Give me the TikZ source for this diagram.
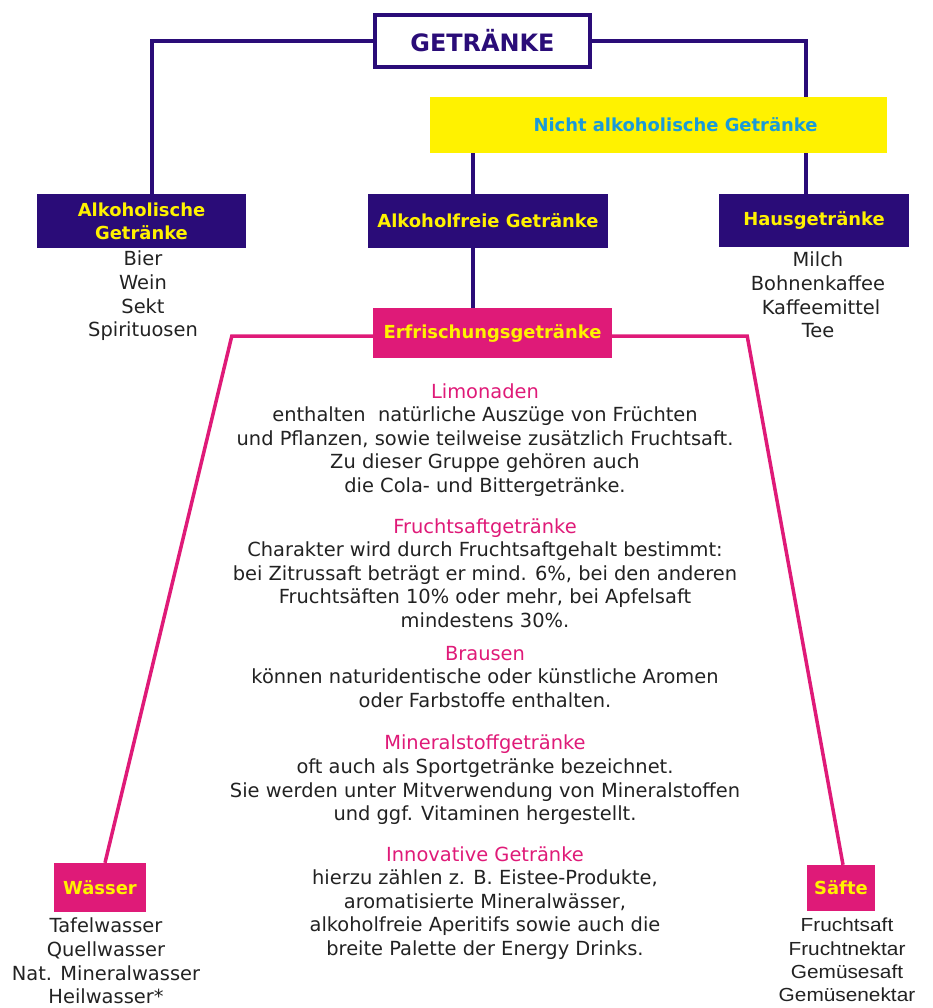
\documentclass[tikz,border=0pt]{standalone}
\usepackage{fontspec}
\setmainfont{DejaVu Sans}
\newfontfamily\arialfont[FakeStretch=1.1]{Liberation Sans}
\definecolor{getrviolet}{HTML}{2A0C78}
\definecolor{getrpink}{HTML}{DF1A78}
\definecolor{getrblue}{HTML}{1A9AD8}
\definecolor{getrtext}{HTML}{222222}
\begin{document}
\begin{tikzpicture}[x=1bp,y=-1bp,
    darkbox/.style={fill=getrviolet, text=yellow, inner sep=0pt, align=center,
        font=\bfseries\fontsize{18}{23}\selectfont},
    pinkbox/.style={fill=getrpink, text=yellow, inner sep=0pt,
        font=\bfseries\fontsize{18}{23}\selectfont},
    liste/.style={align=center, text=getrtext, inner sep=0pt,
        font=\fontsize{19.5}{23.7}\selectfont},
    infoblock/.style={align=center, text=getrtext, inner sep=0pt,
        font=\fontsize{19.5}{23.7}\selectfont},
    violetline/.style={draw=getrviolet, line width=4bp},
    pinkline/.style={draw=getrpink, line width=3.5bp}]
        \useasboundingbox (0,0) rectangle (933,1008);

        % Kopf
        \node[draw=getrviolet, line width=4bp, minimum width=215bp, minimum height=52bp,
            text=getrviolet, font=\bfseries\fontsize{24}{28}\selectfont] (getr) at (482.5, 41) {GETRÄNKE};
        \node[fill=yellow, minimum width=457bp, minimum height=56bp, text=getrblue,
            font=\bfseries\fontsize{18}{23}\selectfont] (nicht) at (658.5, 125) {\hspace*{34bp}Nicht alkoholische Getränke};

        % Gruppen
        \node[darkbox, minimum width=209bp, minimum height=54bp] (alk) at (141.5, 221) {Alkoholische\\Getränke};
        \node[darkbox, minimum width=240bp, minimum height=54bp] (frei) at (488, 221) {Alkoholfreie Getränke};
        \node[darkbox, minimum width=190bp, minimum height=53bp] (haus) at (814, 220.5) {Hausgetränke};
        \node[pinkbox, minimum width=239bp, minimum height=50bp] (erfr) at (492.5, 333) {Erfrischungsgetränke};
        \node[pinkbox, minimum width=92bp, minimum height=49bp] (waesser) at (100, 887.5) {Wässer};
        \node[pinkbox, minimum width=68bp, minimum height=46bp] (saefte) at (841, 888) {Säfte};

        % Listen
        \node[liste] (alkliste) at (143, 296) {Bier\\Wein\\Sekt\\Spirituosen};
        \node[liste] (hausliste) at (818, 295) {Milch\\Bohnenkaffee\\\hspace*{6bp}Kaffeemittel\\Tee};
        \node[liste] (waesserliste) at (106, 961) {Tafelwasser\\Quellwasser\\Nat. Mineralwasser\\Heilwasser*};
        \node[liste, font=\arialfont\fontsize{19}{23.3}\selectfont] (saefteliste) at (847, 960) {Fruchtsaft\\Fruchtnektar\\Gemüsesaft\\Gemüsenektar};

        % Erfrischungsgetraenke
        \node[infoblock] (limo) at (485, 440) {\textcolor{getrpink}{Limonaden}\\
            enthalten\ \ natürliche Auszüge von Früchten\\
            und Pflanzen, sowie teilweise zusätzlich Fruchtsaft.\\
            Zu dieser Gruppe gehören auch\\
            die Cola- und Bittergetränke.};
        \node[infoblock] (frucht) at (485, 573) {\textcolor{getrpink}{Fruchtsaftgetränke}\\
            Charakter wird durch Fruchtsaftgehalt bestimmt:\\
            bei Zitrussaft beträgt er mind. 6\%, bei den anderen\\
            Fruchtsäften 10\% oder mehr, bei Apfelsaft\\
            mindestens 30\%.};
        \node[infoblock] (brause) at (485, 677) {\textcolor{getrpink}{Brausen}\\
            können naturidentische oder künstliche Aromen\\
            oder Farbstoffe enthalten.};
        \node[infoblock] (mineral) at (485, 780) {\textcolor{getrpink}{Mineralstoffgetränke}\\
            oft auch als Sportgetränke bezeichnet.\\
            Sie werden unter Mitverwendung von Mineralstoffen\\
            und ggf. Vitaminen hergestellt.};
        \node[infoblock] (innov) at (485, 903) {\textcolor{getrpink}{Innovative Getränke}\\
            hierzu zählen z. B. Eistee-Produkte,\\
            aromatisierte Mineralwässer,\\
            alkoholfreie Aperitifs sowie auch die\\
            breite Palette der Energy Drinks.};

        % Verbindungen
        \draw[violetline] (getr.west) -| ([xshift=10.5bp]alk.north);
        \draw[violetline] (getr.east) -| ([xshift=-8bp]nicht.north -| haus.north);
        \draw[violetline] ([xshift=-15bp]frei.north |- nicht.south) -- ([xshift=-15bp]frei.north);
        \draw[violetline] ([xshift=-8bp]haus.north |- nicht.south) -- ([xshift=-8bp]haus.north);
        \draw[violetline] ([xshift=-15bp]frei.south) -- ([xshift=-15bp]frei.south |- erfr.north);
        \draw[pinkline] ([yshift=-3bp]erfr.west) -- ++(-141, 0) -- ([xshift=5bp]waesser.north);
        \draw[pinkline] ([yshift=-3bp]erfr.east) -- ++(135, 0) -- ([xshift=2bp]saefte.north);

    \end{tikzpicture}
\end{document}
